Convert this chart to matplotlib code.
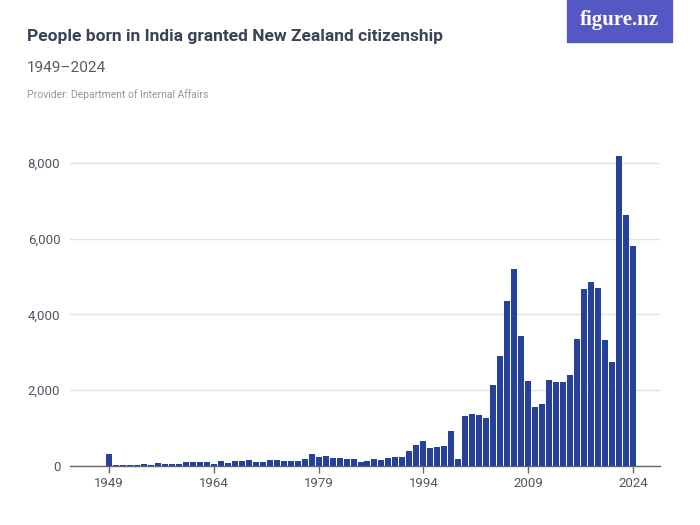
from matplotlib import pyplot as plt
from matplotlib.patches import Rectangle
from matplotlib.ticker import FuncFormatter
import numpy as np

years = list(range(1949, 2025))
people = [
    320, 20, 30, 20, 20, 45, 30, 70, 45, 60,           # 1949-1958
    60, 100, 100, 100, 115, 60, 125, 80, 125, 140,     # 1959-1968
    150, 115, 100, 150, 150, 125, 125, 130, 175, 320,  # 1969-1978
    240, 255, 200, 220, 190, 175, 115, 125, 185, 160,  # 1979-1988
    200, 240, 240, 400, 550, 650, 480, 505, 530, 916,  # 1989-1998
    185, 1313, 1366, 1357, 1260, 2132, 2907, 4343, 5198, 3427,  # 1999-2008
    2255, 1568, 1647, 2273, 2211, 2211, 2396, 3348, 4669, 4854,  # 2009-2018
    4696, 3321, 2740, 8193, 6625, 5797,                # 2019-2024
]
x_ticks = [1949, 1964, 1979, 1994, 2009, 2024]
y_ticks = [0, 2000, 4000, 6000, 8000]

title = 'People born in India granted New Zealand citizenship'
subtitle = '1949–2024'
provider = 'Provider: Department of Internal Affairs'

narrow = ['Roboto', 'DejaVu Sans']
bar_color = '#26419a'
text_dark = '#3a4256'
tick_grey = '#4f5563'

fig = plt.figure(figsize=(7, 5.25), dpi=100)
ax = fig.add_axes([0.1, 0.1124, 0.843, 0.606])

ax.bar(years, people, width=0.86, color=bar_color, zorder=3)
ax.set_xlim(1943.4, 2027.9)
ax.set_ylim(0, 8400)

ax.set_yticks(y_ticks)
ax.yaxis.set_major_formatter(FuncFormatter(lambda v, _: f'{int(v):,}'))
ax.set_xticks(x_ticks)
ax.grid(axis='y', color='#e2e2e2', linewidth=1, zorder=0)
ax.tick_params(axis='y', length=0, pad=7, labelsize=9.5, labelcolor=tick_grey)
ax.tick_params(axis='x', length=5, width=1, color='#666666', pad=3,
               labelsize=9.5, labelcolor=tick_grey)
for lab in ax.get_xticklabels() + ax.get_yticklabels():
    lab.set_family(narrow)
for side in ['top', 'right', 'left']:
    ax.spines[side].set_visible(False)
ax.spines['bottom'].set_color('#666666')
ax.spines['bottom'].set_linewidth(1)

fig.text(27 / 700, 1 - 37 / 525, title, fontsize=12.5, color=text_dark,
         family=narrow, weight='bold', va='center', ha='left')
fig.text(27 / 700, 1 - 68 / 525, subtitle, fontsize=11, color='#555a66',
         family=narrow, va='center', ha='left')
fig.text(27 / 700, 1 - 95 / 525, provider, fontsize=7.5, color='#93969c',
         family=narrow, va='center', ha='left')

# logo box
fig.patches.append(Rectangle((567 / 700, 1 - 42 / 525), 105 / 700, 42 / 525,
                             transform=fig.transFigure, color='#5558c4',
                             zorder=0))
fig.text(619 / 700, 1 - 20 / 525, 'figure.nz', fontsize=15, color='white',
         family=['Liberation Serif', 'DejaVu Serif'], weight='bold',
         va='center', ha='center')

fig.savefig('out.png', dpi=100, facecolor='white')
